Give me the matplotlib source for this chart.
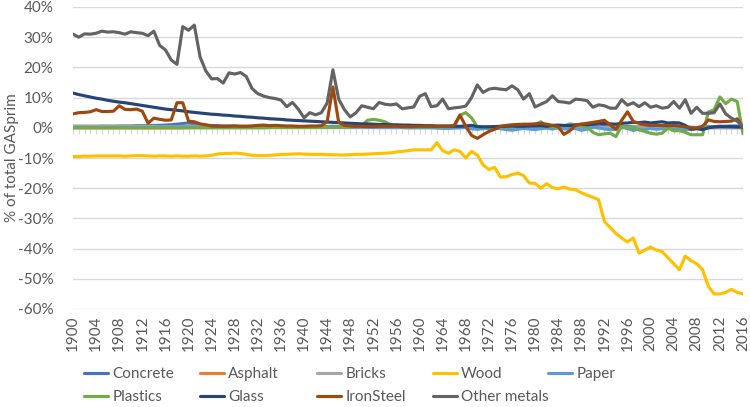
import numpy as np
import matplotlib
matplotlib.use('Agg')
from matplotlib import pyplot as plt
from matplotlib.ticker import PercentFormatter

plt.rcParams['font.family'] = ['Lato', 'DejaVu Sans']
plt.rcParams['axes.unicode_minus'] = False

years = list(range(1900, 2017))

concrete = [0.3, 0.3, 0.4, 0.4, 0.4, 0.5, 0.5, 0.5, 0.6, 0.6,
            0.6, 0.7, 0.7, 0.7, 0.8, 0.8, 0.9, 1.0, 1.2, 1.4,
            1.6, 1.2, 0.9, 0.8, 0.7, 0.7, 0.6, 0.6, 0.6, 0.5,
            0.5, 0.5, 0.5, 0.5, 0.5, 0.5, 0.4, 0.4, 0.4, 0.4,
            0.4, 0.4, 0.4, 0.4, 0.4, 0.5, 0.4, 0.4, 0.4, 0.4,
            0.4, 0.4, 0.4, 0.4, 0.3, 0.3, 0.3, 0.3, 0.3, 0.3,
            0.3, 0.3, 0.3, 0.3, 0.3, 0.3, 0.3, 0.3, 0.5, 0.4,
            0.2, 0.2, 0.3, 0.3, 0.3, 0.2, 0.2, 0.2, 0.3, 0.3,
            0.3, 0.2, 0.3, 0.3, 0.2, 0.2, 0.3, 0.4, 0.4, 0.5,
            0.5, 0.4, 0.4, 0.3, 0.2, 0.4, 0.4, 0.3, 0.3, 0.4,
            0.4, 0.5, 0.4, 0.4, 0.5, 0.4, 0.3, 0.2, 0.1, 0.1,
            0.3, 0.4, 0.5, 0.5, 0.6, 0.6, 0.3]

asphalt = [0.0, 0.0, 0.0, 0.0, 0.0, 0.0, 0.0, 0.0, 0.0, 0.0,
           0.0, 0.0, 0.0, 0.0, 0.0, 0.0, 0.0, 0.0, 0.0, 0.0,
           0.1, 0.1, 0.1, 0.1, 0.1, 0.1, 0.1, 0.1, 0.1, 0.1,
           0.1, 0.1, 0.1, 0.1, 0.1, 0.1, 0.1, 0.1, 0.1, 0.1,
           0.1, 0.1, 0.1, 0.1, 0.1, 0.1, 0.1, 0.1, 0.1, 0.1,
           0.1, 0.1, 0.1, 0.1, 0.1, 0.1, 0.1, 0.1, 0.1, 0.1,
           0.2, 0.2, 0.2, 0.2, 0.2, 0.2, 0.2, 0.2, 0.2, 0.1,
           0.1, 0.1, 0.1, 0.2, 0.2, 0.1, 0.1, 0.2, 0.2, 0.2,
           0.2, 0.1, 0.1, 0.2, 0.2, 0.1, 0.1, 0.2, 0.2, 0.2,
           0.2, 0.2, 0.1, 0.1, 0.1, 0.2, 0.2, 0.1, 0.1, 0.1,
           0.1, 0.1, 0.1, 0.2, 0.2, 0.1, 0.1, 0.0, 0.0, 0.0,
           0.1, 0.1, 0.1, 0.1, 0.1, 0.1, 0.0]

bricks = [0.6, 0.6, 0.6, 0.6, 0.6, 0.6, 0.6, 0.6, 0.5, 0.5,
          0.5, 0.5, 0.5, 0.5, 0.5, 0.4, 0.4, 0.4, 0.4, 0.5,
          0.6, 0.5, 0.4, 0.4, 0.4, 0.4, 0.4, 0.3, 0.3, 0.3,
          0.3, 0.3, 0.3, 0.3, 0.3, 0.3, 0.3, 0.2, 0.2, 0.2,
          0.2, 0.2, 0.2, 0.2, 0.2, 0.2, 0.2, 0.2, 0.2, 0.2,
          0.2, 0.2, 0.2, 0.2, 0.2, 0.1, 0.1, 0.1, 0.1, 0.1,
          0.1, 0.1, 0.1, 0.1, 0.1, 0.1, 0.1, 0.1, 0.1, 0.1,
          0.1, 0.1, 0.1, 0.1, 0.1, 0.0, 0.0, 0.1, 0.1, 0.1,
          0.1, 0.0, 0.0, 0.0, 0.0, 0.0, 0.0, 0.1, 0.1, 0.1,
          0.1, 0.0, 0.0, 0.0, 0.0, 0.0, 0.0, 0.0, 0.0, 0.0,
          0.0, 0.0, 0.0, 0.0, 0.0, 0.0, 0.0, 0.0, 0.0, 0.0,
          0.0, 0.0, 0.0, 0.0, 0.0, 0.0, 0.0]

wood = [-9.5, -9.5, -9.4, -9.4, -9.3, -9.3, -9.3, -9.3, -9.3, -9.4,
        -9.3, -9.2, -9.2, -9.3, -9.4, -9.3, -9.3, -9.4, -9.3, -9.4,
        -9.4, -9.3, -9.4, -9.3, -9.1, -8.7, -8.5, -8.5, -8.4, -8.5,
        -8.8, -9.1, -9.2, -9.2, -9.1, -9.0, -8.8, -8.8, -8.7, -8.6,
        -8.7, -8.8, -8.8, -8.8, -8.9, -8.9, -9.0, -9.0, -8.9, -8.8,
        -8.8, -8.7, -8.6, -8.5, -8.4, -8.3, -8.0, -7.8, -7.6, -7.3,
        -7.3, -7.3, -7.3, -4.9, -7.6, -8.4, -7.3, -7.8, -10.0, -7.8,
        -9.0, -12.3, -13.8, -13.1, -16.3, -16.2, -15.5, -15.0, -15.8, -18.3,
        -18.4, -20.0, -18.5, -19.8, -20.2, -19.6, -20.3, -20.5, -21.5, -22.3,
        -23.0, -23.8, -31.0, -33.0, -35.0, -36.5, -37.8, -36.5, -41.5, -40.5,
        -39.5, -40.5, -41.0, -43.0, -45.0, -47.0, -42.5, -44.0, -45.0, -47.0,
        -52.5, -55.0, -55.0, -54.5, -53.5, -54.5, -55.0]

paper = [0.1, 0.1, 0.1, 0.1, 0.1, 0.1, 0.1, 0.1, 0.1, 0.1,
         0.1, 0.1, 0.1, 0.1, 0.1, 0.2, 0.2, 0.2, 0.2, 0.2,
         0.2, 0.2, 0.2, 0.2, 0.2, 0.2, 0.2, 0.2, 0.2, 0.2,
         0.2, 0.2, 0.2, 0.2, 0.2, 0.2, 0.2, 0.2, 0.2, 0.2,
         0.2, 0.2, 0.2, 0.2, 0.2, 0.2, 0.2, 0.2, 0.2, 0.2,
         0.2, 0.2, 0.1, 0.1, 0.1, 0.1, 0.1, 0.1, 0.0, 0.0,
         0.0, 0.0, 0.0, -0.1, -0.2, -0.2, -0.1, 0.0, 0.1, -0.3,
         -0.5, -0.3, -0.2, -0.1, -0.3, -0.6, -0.8, -0.5, -0.2, -0.4,
         -0.6, -0.3, -0.1, -0.4, 0.0, -0.3, -0.5, -0.2, -0.8, -0.5,
         0.3, 0.0, -0.4, -0.6, -0.5, 0.3, -0.2, -0.9, -0.4, -0.6,
         -0.2, -0.5, -0.3, -0.1, -0.4, -0.2, -0.6, -0.5, -0.2, 0.1,
         0.4, 0.3, 0.5, 0.2, 0.1, 0.3, 0.0]

plastics = [0.0, 0.0, 0.0, 0.0, 0.0, 0.0, 0.0, 0.0, 0.0, 0.0,
            0.0, 0.0, 0.0, 0.0, 0.0, 0.0, 0.0, 0.0, 0.0, 0.0,
            0.0, 0.0, 0.0, 0.0, 0.0, 0.0, 0.0, 0.0, 0.0, 0.0,
            0.0, 0.0, 0.0, 0.0, 0.1, 0.1, 0.1, 0.1, 0.1, 0.1,
            0.1, 0.1, 0.1, 0.1, 0.1, 0.2, 0.2, 0.2, 0.3, 0.4,
            0.8, 2.5, 2.8, 2.5, 2.0, 1.0, 0.5, 0.4, 0.3, 0.3,
            0.3, 0.3, 0.3, 0.3, 0.3, 0.3, 0.5, 4.2, 5.0, 3.3,
            0.3, 0.2, 0.2, 0.2, 0.3, 0.3, 0.3, 0.5, 0.6, 0.8,
            1.0, 2.0, 0.5, 0.3, 0.2, 0.5, 1.3, 1.0, 0.5, 0.4,
            -1.5, -2.3, -2.0, -1.8, -2.9, 0.7, -0.1, 0.2, -0.7, -1.2,
            -1.8, -2.1, -1.8, -0.1, -1.0, -0.9, -1.5, -2.3, -2.3, -2.3,
            5.2, 6.0, 10.2, 8.0, 9.5, 8.7, -2.0]

glass = [11.5, 11.0, 10.6, 10.2, 9.8, 9.5, 9.1, 8.8, 8.5, 8.3,
         8.0, 7.7, 7.4, 7.1, 6.8, 6.5, 6.2, 6.0, 5.8, 5.6,
         5.3, 5.1, 4.9, 4.7, 4.5, 4.4, 4.2, 4.1, 3.9, 3.8,
         3.6, 3.5, 3.3, 3.2, 3.0, 2.9, 2.8, 2.6, 2.5, 2.4,
         2.3, 2.2, 2.1, 2.0, 1.9, 1.8, 1.7, 1.6, 1.5, 1.4,
         1.3, 1.3, 1.2, 1.1, 1.1, 1.0, 1.0, 0.9, 0.9, 0.8,
         0.8, 0.7, 0.7, 0.6, 0.6, 0.6, 0.5, 0.5, 0.6, 0.8,
         0.4, 0.3, 0.3, 0.4, 0.5, 0.5, 0.6, 0.5, 0.5, 0.6,
         0.6, 0.7, 0.5, 0.8, 0.9, 0.8, 0.7, 0.9, 1.2, 1.0,
         1.2, 1.5, 1.4, 1.3, 1.2, 1.5, 1.6, 1.8, 1.7, 1.9,
         1.6, 1.8, 2.0, 1.6, 1.7, 1.6, 0.8, -0.5, -0.3, -0.6,
         0.0, 0.3, 0.4, 0.4, 0.4, 0.3, 0.3]

ironsteel = [4.6, 5.0, 5.1, 5.3, 6.0, 5.4, 5.4, 5.5, 7.3, 6.1,
             6.0, 6.2, 5.5, 1.5, 3.2, 2.8, 2.5, 2.6, 8.3, 8.3,
             2.2, 2.0, 1.3, 1.0, 0.6, 0.5, 0.5, 0.5, 0.6, 0.5,
             0.5, 0.6, 0.8, 0.9, 0.7, 0.8, 0.7, 0.6, 0.6, 0.5,
             0.5, 0.6, 0.6, 0.7, 2.0, 13.5, 1.8, 0.8, 0.6, 0.5,
             0.5, 0.4, 0.4, 0.5, 0.5, 0.5, 0.5, 0.4, 0.4, 0.4,
             0.5, 0.5, 0.5, 0.5, 0.5, 0.5, 0.8, 4.2, 0.5, -2.5,
             -3.5, -2.3, -1.2, -0.5, 0.5, 0.8, 1.0, 1.1, 1.2, 1.2,
             1.3, 1.5, 1.2, 0.8, 0.4, -2.2, -1.0, 0.8, 1.2, 1.5,
             1.8, 2.1, 2.5, 1.0, -0.5, 2.5, 5.3, 2.1, 1.5, 1.0,
             0.8, 0.8, 0.8, 0.7, 0.8, 0.6, 0.3, 0.0, 0.0, 0.5,
             2.6, 2.1, 2.0, 2.1, 2.2, 3.0, 0.0]

other_metals = [31.0, 30.0, 31.1, 31.0, 31.3, 32.0, 31.7, 31.8, 31.5, 31.0,
                31.8, 31.5, 31.3, 30.5, 32.0, 27.3, 25.8, 22.5, 21.0, 33.5,
                32.3, 34.0, 23.5, 18.8, 16.2, 16.3, 14.8, 18.2, 17.8, 18.3,
                17.0, 13.0, 11.3, 10.5, 10.0, 9.7, 9.2, 7.0, 8.4, 6.2,
                3.3, 5.0, 4.3, 5.0, 8.2, 19.2, 9.5, 6.0, 3.6, 5.0,
                7.3, 6.8, 6.3, 8.4, 7.8, 7.6, 7.9, 6.3, 6.6, 6.9,
                10.4, 11.3, 7.0, 7.3, 9.5, 6.3, 6.6, 6.8, 7.2, 10.0,
                14.2, 11.7, 12.8, 13.1, 12.8, 12.6, 13.9, 12.6, 9.5, 11.3,
                6.9, 7.8, 8.7, 10.6, 8.7, 8.5, 8.2, 9.5, 9.3, 9.0,
                6.8, 7.6, 7.3, 6.5, 6.5, 9.3, 7.5, 8.3, 7.0, 8.3,
                6.8, 7.3, 6.5, 6.8, 8.7, 6.5, 9.3, 4.8, 6.8, 4.8,
                4.8, 5.0, 7.9, 4.6, 3.2, 2.2, 0.3]

names = ['Concrete', 'Asphalt', 'Bricks', 'Wood', 'Paper',
         'Plastics', 'Glass', 'IronSteel', 'Other metals']
colors = ['#4472C4', '#ED7D31', '#A5A5A5', '#FFC000', '#5B9BD5',
          '#70AD47', '#264478', '#9E480E', '#636363']
series = [concrete, asphalt, bricks, wood, paper,
          plastics, glass, ironsteel, other_metals]

fig = plt.figure(figsize=(7.5, 4.07), dpi=100)
ax = fig.add_axes([73 / 750, 1 - 309 / 407, 670 / 750, 302 / 407])

lines = []
for name, col, vals in zip(names, colors, series):
    ln, = ax.plot(years, vals, color=col, lw=2.25, label=name,
                  solid_joinstyle='round', solid_capstyle='round')
    lines.append(ln)

ax.set_xlim(1900, 2016)
ax.set_ylim(-60, 40)
ax.set_yticks(np.arange(-60, 41, 10))
ax.yaxis.set_major_formatter(PercentFormatter(decimals=0))
ax.yaxis.grid(True, color='#D9D9D9', lw=1)
ax.set_axisbelow(True)
for s in ['top', 'right', 'left']:
    ax.spines[s].set_visible(False)
ax.spines['bottom'].set_position(('data', 0))
ax.spines['bottom'].set_color('#D9D9D9')
ax.spines['bottom'].set_zorder(0.5)
ax.set_xticks(years)
ax.tick_params(axis='x', length=4, color='#D9D9D9', labelbottom=False)
ax.tick_params(axis='y', length=0, pad=14, labelsize=11, labelcolor='#595959')

sec = ax.secondary_xaxis('bottom')
sec.set_xticks(years[::4])
sec.set_xticklabels([str(y) for y in years[::4]], rotation=90)
sec.tick_params(length=0, pad=5, labelsize=11, labelcolor='#595959')
sec.spines['bottom'].set_visible(False)

ax.set_ylabel('% of total GASprim', fontsize=11, color='#595959')
ax.yaxis.set_label_coords(-54 / 670, 0.5)

# legend laid out in fixed-width columns like the original
col_x = [84, 200, 317, 433, 548]
for c, x0 in enumerate(col_x):
    idx = [i for i in (c, c + 5) if i < len(names)]
    leg = fig.legend([lines[i] for i in idx], [names[i] for i in idx],
                     loc='upper left', bbox_to_anchor=(x0 / 750, 1 - 367 / 407),
                     frameon=False, fontsize=11, handlelength=1.6,
                     handletextpad=0.25, labelspacing=0.6, borderpad=0,
                     borderaxespad=0, labelcolor='#595959')

fig.savefig('out.png', dpi=100)
